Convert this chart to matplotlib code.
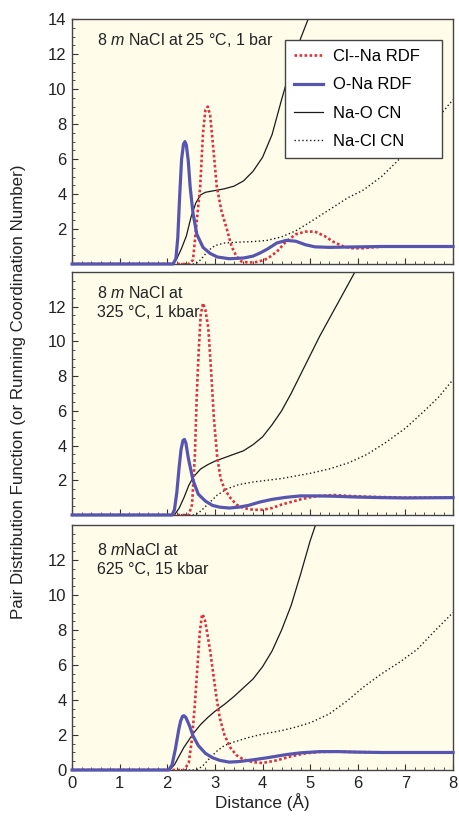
import matplotlib
matplotlib.use("Agg")
import matplotlib.pyplot as plt
from matplotlib.ticker import MultipleLocator

plt.rcParams['font.family'] = ['Liberation Sans', 'DejaVu Sans']
plt.rcParams['mathtext.fontset'] = 'custom'
plt.rcParams['mathtext.rm'] = 'Liberation Sans'
plt.rcParams['mathtext.it'] = 'Liberation Sans:italic'

# ---- data (distance in Angstrom) ----
# 25 C, 1 bar
x_ona_1 = [0, 2.12, 2.18, 2.22, 2.26, 2.30, 2.34, 2.37, 2.40, 2.44, 2.48, 2.54, 2.62, 2.75, 2.9, 3.05, 3.3, 3.6, 3.8, 3.95, 4.1, 4.3, 4.5, 4.7, 4.9, 5.1, 5.4, 5.8, 6.5, 8.0]
g_ona_1 = [0, 0, 0.3, 1.5, 3.9, 6.0, 6.85, 7.0, 6.8, 5.9, 4.4, 2.9, 1.7, 0.95, 0.6, 0.4, 0.3, 0.34, 0.45, 0.63, 0.85, 1.2, 1.35, 1.3, 1.1, 0.98, 0.95, 0.97, 1.0, 1.0]
x_clna_1 = [0, 2.45, 2.54, 2.62, 2.69, 2.75, 2.8, 2.85, 2.9, 2.97, 3.04, 3.14, 3.25, 3.35, 3.45, 3.55, 3.7, 3.9, 4.1, 4.3, 4.5, 4.7, 4.9, 5.1, 5.3, 5.5, 5.7, 5.9, 6.1, 6.3, 6.6, 7.0, 8.0]
g_clna_1 = [0, 0, 0.23, 2.5, 4.4, 7.5, 8.8, 9.0, 8.5, 6.5, 4.4, 3.0, 2.0, 1.0, 0.45, 0.15, 0.08, 0.12, 0.3, 0.7, 1.3, 1.7, 1.85, 1.85, 1.6, 1.25, 1.0, 0.9, 0.9, 0.95, 1.0, 1.0, 1.0]
x_cno_1 = [0, 2.12, 2.2, 2.3, 2.4, 2.5, 2.6, 2.7, 2.8, 3.0, 3.2, 3.4, 3.6, 3.8, 4.0, 4.2, 4.4, 4.6, 4.8, 5.0]
n_cno_1 = [0, 0, 0.3, 0.9, 1.6, 2.7, 3.5, 3.95, 4.1, 4.2, 4.3, 4.45, 4.75, 5.3, 6.1, 7.4, 9.4, 11.3, 12.9, 14.3]
x_cncl_1 = [0, 2.55, 2.65, 2.75, 2.85, 3.0, 3.2, 3.5, 3.8, 4.1, 4.4, 4.7, 5.0, 5.4, 5.8, 6.1, 6.5, 6.8, 7.2, 7.6, 8.0]
n_cncl_1 = [0, 0, 0.1, 0.4, 0.75, 1.05, 1.2, 1.25, 1.28, 1.35, 1.55, 1.9, 2.4, 3.1, 3.8, 4.2, 5.0, 5.8, 6.9, 8.1, 9.4]

# 325 C, 1 kbar
x_ona_2 = [0, 2.1, 2.15, 2.2, 2.25, 2.29, 2.33, 2.36, 2.39, 2.44, 2.54, 2.65, 2.8, 2.95, 3.1, 3.3, 3.5, 3.7, 3.95, 4.2, 4.5, 4.8, 5.1, 5.5, 6.0, 6.5, 7.0, 8.0]
g_ona_2 = [0, 0, 0.3, 1.3, 2.8, 3.8, 4.3, 4.35, 4.15, 3.3, 2.0, 1.2, 0.8, 0.55, 0.45, 0.4, 0.45, 0.55, 0.75, 0.9, 1.02, 1.1, 1.1, 1.08, 1.03, 1.0, 0.98, 1.0]
x_clna_2 = [0, 2.45, 2.52, 2.58, 2.62, 2.66, 2.7, 2.75, 2.8, 2.86, 2.92, 2.98, 3.05, 3.12, 3.2, 3.32, 3.45, 3.6, 3.8, 4.0, 4.2, 4.4, 4.6, 4.8, 5.0, 5.2, 5.5, 5.8, 6.2, 7.0, 8.0]
g_clna_2 = [0, 0, 0.6, 3.5, 7.0, 9.5, 11.5, 12.2, 11.8, 10.8, 8.3, 5.5, 3.3, 2.1, 1.5, 1.0, 0.6, 0.4, 0.3, 0.3, 0.4, 0.6, 0.75, 0.9, 1.02, 1.1, 1.15, 1.1, 1.05, 1.0, 1.0]
x_cno_2 = [0, 2.15, 2.25, 2.35, 2.45, 2.55, 2.7, 2.85, 3.0, 3.2, 3.4, 3.6, 3.8, 4.0, 4.2, 4.4, 4.6, 4.8, 5.0, 5.2, 5.4, 5.6, 5.8, 6.0]
n_cno_2 = [0, 0, 0.4, 1.0, 1.7, 2.2, 2.65, 2.9, 3.1, 3.3, 3.5, 3.7, 4.05, 4.5, 5.2, 6.0, 7.0, 8.1, 9.2, 10.3, 11.3, 12.3, 13.3, 14.3]
x_cncl_2 = [0, 2.55, 2.65, 2.75, 2.9, 3.05, 3.25, 3.5, 3.8, 4.1, 4.4, 4.7, 5.0, 5.4, 5.8, 6.2, 6.6, 7.0, 7.4, 7.7, 8.0]
n_cncl_2 = [0, 0, 0.1, 0.35, 0.75, 1.15, 1.5, 1.75, 1.9, 2.0, 2.1, 2.25, 2.4, 2.65, 3.0, 3.5, 4.2, 5.0, 6.0, 6.8, 7.8]

# 625 C, 15 kbar
x_ona_3 = [0, 2.03, 2.1, 2.17, 2.24, 2.28, 2.32, 2.35, 2.39, 2.47, 2.54, 2.65, 2.8, 2.95, 3.1, 3.3, 3.5, 3.8, 4.1, 4.5, 4.8, 5.2, 5.6, 6.0, 6.5, 7.0, 8.0]
g_ona_3 = [0, 0, 0.3, 1.2, 2.3, 2.8, 3.07, 3.1, 3.0, 2.5, 1.95, 1.4, 0.95, 0.7, 0.55, 0.45, 0.48, 0.58, 0.7, 0.88, 0.98, 1.05, 1.05, 1.02, 1.0, 1.0, 1.0]
x_clna_3 = [0, 2.35, 2.45, 2.52, 2.58, 2.63, 2.68, 2.73, 2.78, 2.84, 2.9, 2.96, 3.03, 3.1, 3.2, 3.32, 3.45, 3.6, 3.8, 4.0, 4.3, 4.6, 4.9, 5.2, 5.6, 6.0, 7.0, 8.0]
g_clna_3 = [0, 0, 0.4, 1.8, 3.8, 5.8, 7.8, 8.9, 8.7, 7.8, 6.8, 5.6, 4.2, 3.0, 2.0, 1.3, 0.85, 0.6, 0.45, 0.4, 0.55, 0.78, 0.95, 1.03, 1.05, 1.02, 1.0, 1.0]
x_cno_3 = [0, 2.05, 2.15, 2.25, 2.35, 2.45, 2.55, 2.7, 2.85, 3.0, 3.2, 3.4, 3.6, 3.8, 4.0, 4.2, 4.4, 4.6, 4.8, 5.0, 5.15]
n_cno_3 = [0, 0, 0.3, 0.8, 1.3, 1.7, 2.1, 2.6, 3.0, 3.35, 3.75, 4.2, 4.7, 5.2, 5.9, 6.8, 8.0, 9.4, 11.2, 13.1, 14.3]
x_cncl_3 = [0, 2.55, 2.65, 2.75, 2.9, 3.05, 3.2, 3.4, 3.7, 4.0, 4.4, 4.7, 5.0, 5.4, 5.8, 6.1, 6.5, 6.9, 7.25, 7.6, 8.0]
n_cncl_3 = [0, 0, 0.05, 0.25, 0.7, 1.1, 1.4, 1.6, 1.85, 2.05, 2.25, 2.45, 2.7, 3.2, 4.0, 4.7, 5.5, 6.2, 6.9, 7.9, 9.0]

labels = ['8 $\\it{m}$ NaCl at 25 °C, 1 bar',
          '8 $\\it{m}$ NaCl at\n325 °C, 1 kbar',
          '8 $\\it{m}$NaCl at\n625 °C, 15 kbar']
ytick_sets = [[2, 4, 6, 8, 10, 12, 14], [2, 4, 6, 8, 10, 12], [0, 2, 4, 6, 8, 10, 12]]
xticks = [0, 1, 2, 3, 4, 5, 6, 7, 8]

panels = [(x_ona_1, g_ona_1, x_clna_1, g_clna_1, x_cno_1, n_cno_1, x_cncl_1, n_cncl_1),
          (x_ona_2, g_ona_2, x_clna_2, g_clna_2, x_cno_2, n_cno_2, x_cncl_2, n_cncl_2),
          (x_ona_3, g_ona_3, x_clna_3, g_clna_3, x_cno_3, n_cno_3, x_cncl_3, n_cncl_3)]

red = '#e0303c'
blue = '#5656b0'
bg = '#fffdea'

fig = plt.figure(figsize=(4.59, 8.16), dpi=100)
boxes = [(0.157, 0.6765, 0.830, 0.300),
         (0.157, 0.3689, 0.830, 0.2978),
         (0.157, 0.0564, 0.830, 0.3002)]
text_y = [0.95, 0.945, 0.93]

for i, (box, p) in enumerate(zip(boxes, panels)):
    ax = fig.add_axes(box)
    ax.set_facecolor(bg)
    xo, go, xc, gc, xn, nn, xl, nl = p
    ax.plot(xc, gc, color=red, lw=1.9, ls=(0, (1, 0.9)), label='Cl--Na RDF', zorder=3)
    ax.plot(xo, go, color=blue, lw=2.3, label='O-Na RDF', zorder=4, clip_on=False)
    ax.plot(xn, nn, color='#1a1a1a', lw=0.9, label='Na-O CN', zorder=2)
    ax.plot(xl, nl, color='#1a1a1a', lw=1.0, ls=(0, (1, 1.8)), label='Na-Cl CN', zorder=2)
    ax.set_xlim(0, 8)
    ax.set_ylim(0, 14)
    ax.xaxis.set_minor_locator(MultipleLocator(0.2))
    ax.yaxis.set_minor_locator(MultipleLocator(0.5))
    ax.set_yticks(ytick_sets[i])
    ax.set_xticks(xticks)
    ax.tick_params(which='both', direction='in', top=False, right=False,
                   labelsize=12, colors='#333333', labelcolor='#222222')
    ax.tick_params(which='major', length=4.5, width=0.8, pad=4)
    ax.tick_params(which='minor', length=2.2, width=0.6)
    if i < 2:
        ax.tick_params(axis='x', labelbottom=False)
    for s in ax.spines.values():
        s.set_color('#444444')
        s.set_linewidth(1.0)
    ax.text(0.066, text_y[i], labels[i], transform=ax.transAxes, fontsize=11.5,
            va='top', ha='left', linespacing=1.3, color='#222222')
    if i == 0:
        leg = ax.legend(loc='upper left', bbox_to_anchor=(0.559, 0.424, 0.413, 0.491),
                        mode='expand', fontsize=12, frameon=True, fancybox=False,
                        framealpha=1, edgecolor='#444444', labelspacing=0.8,
                        handlelength=1.7, handletextpad=0.65, borderpad=0.55,
                        borderaxespad=0)
        leg.get_frame().set_linewidth(1.0)
    if i == 2:
        ax.set_xlabel('Distance (Å)', fontsize=12.3, labelpad=2, color='#222222')

fig.text(0.04, 0.52, 'Pair Distribution Function (or Running Coordination Number)',
         rotation=90, ha='center', va='center', fontsize=12.2, color='#222222')

fig.savefig('out.png', dpi=100)
